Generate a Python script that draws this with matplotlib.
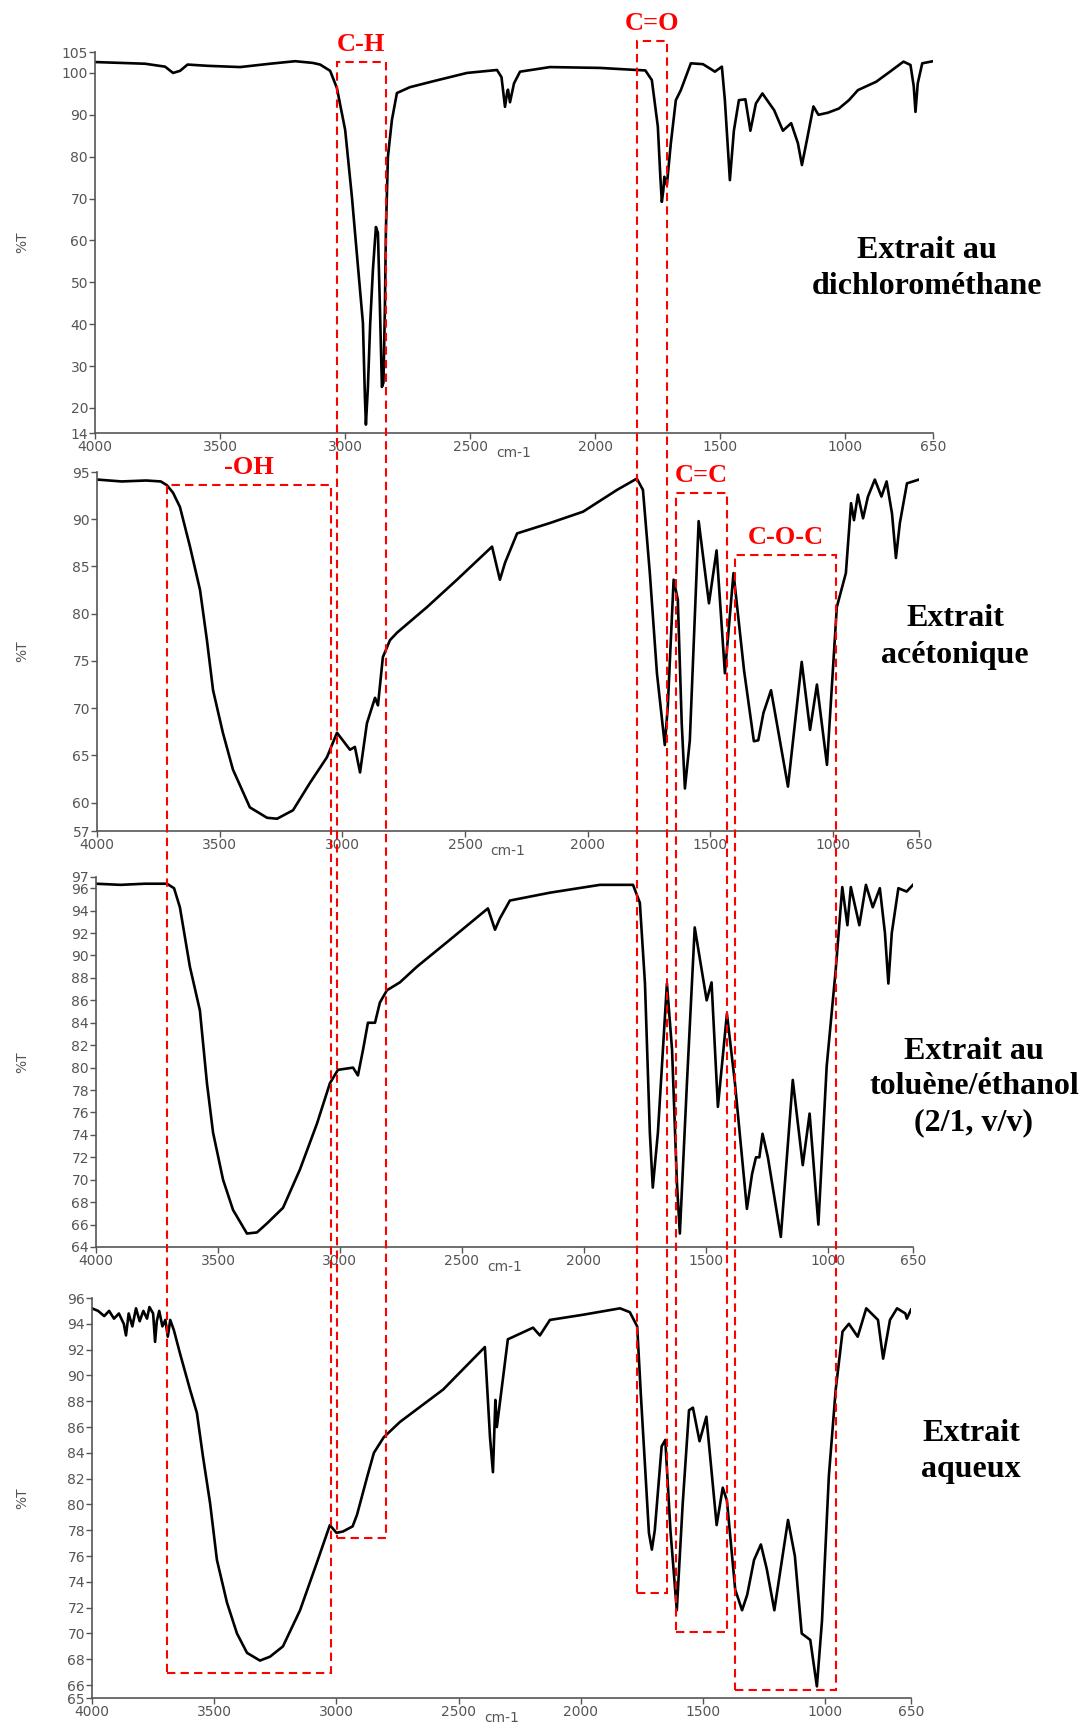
import matplotlib
matplotlib.use('Agg')
import matplotlib.pyplot as plt
from matplotlib.patches import Rectangle

W, H = 1083, 1726

# FTIR spectra: wavenumber (cm-1) and transmittance (%T)
wn_dcm = [4000, 3900, 3800, 3720, 3688, 3660, 3630, 3550, 3420, 3300, 3200, 3130, 3100, 3060,
          3033, 3000, 2973, 2950, 2929, 2921, 2917, 2909, 2900, 2889, 2877, 2869, 2861, 2853,
          2847, 2841, 2837, 2829, 2813, 2793, 2741, 2649, 2513, 2393, 2375, 2361, 2352, 2349,
          2341, 2325, 2301, 2181, 1982, 1834, 1800, 1774, 1750, 1740, 1734, 1728, 1724, 1714,
          1698, 1678, 1658, 1618, 1570, 1540, 1522, 1494, 1482, 1462, 1446, 1426, 1400, 1380,
          1358, 1332, 1285, 1250, 1217, 1190, 1174, 1154, 1128, 1108, 1070, 1026, 986, 950,
          877, 822, 768, 740, 727, 720, 711, 693, 650]
t_dcm = [102.6, 102.4, 102.2, 101.5, 100.0, 100.5, 102.0, 101.7, 101.4, 102.2, 102.8, 102.4, 102.0, 100.5,
         96.4, 86.4, 70.4, 54.6, 40.3, 22.6, 16.0, 25.0, 40.0, 53.0, 63.2, 61.8, 44.0, 25.0,
         26.0, 44.0, 62.5, 80.0, 88.8, 95.2, 96.6, 98.0, 100.0, 100.7, 99.0, 91.9, 95.5, 96.0,
         93.0, 97.5, 100.3, 101.4, 101.2, 100.7, 100.6, 98.3, 87.2, 75.2, 69.2, 72.0, 75.2, 73.2,
         83.2, 93.5, 95.9, 102.3, 102.1, 101.0, 100.3, 101.5, 93.5, 74.4, 86.2, 93.5, 93.7, 86.2,
         92.7, 95.1, 91.1, 86.2, 88.0, 83.2, 78.0, 84.0, 92.0, 90.0, 90.5, 91.5, 93.5, 95.9,
         97.9, 100.3, 102.7, 101.9, 96.8, 90.7, 97.5, 102.3, 102.8]

wn_ace = [4000, 3900, 3800, 3740, 3715, 3690, 3662, 3621, 3580, 3552, 3527, 3487, 3446, 3377,
          3307, 3266, 3201, 3132, 3063, 3022, 2969, 2949, 2928, 2900, 2867, 2855, 2835, 2806,
          2777, 2655, 2533, 2390, 2358, 2337, 2288, 2154, 2019, 1881, 1800, 1775, 1747, 1718,
          1686, 1674, 1650, 1633, 1617, 1604, 1584, 1548, 1506, 1475, 1441, 1406, 1363, 1323,
          1305, 1284, 1253, 1184, 1128, 1094, 1066, 1025, 985, 948, 927, 915, 899, 878,
          858, 830, 803, 782, 760, 744, 728, 699, 650]
t_ace = [94.2, 94.0, 94.1, 94.0, 93.6, 92.8, 91.3, 87.1, 82.5, 77.2, 71.9, 67.4, 63.5, 59.5,
         58.4, 58.3, 59.2, 62.1, 64.8, 67.4, 65.6, 65.9, 63.2, 68.4, 71.1, 70.3, 75.4, 77.2,
         78.0, 80.7, 83.6, 87.1, 83.6, 85.4, 88.5, 89.6, 90.8, 93.1, 94.3, 93.1, 84.3, 73.7,
         66.1, 70.1, 83.6, 81.5, 68.4, 61.5, 66.6, 89.8, 81.1, 86.7, 73.7, 84.3, 74.0, 66.5,
         66.6, 69.5, 71.9, 61.7, 74.9, 67.7, 72.5, 64.0, 80.7, 84.3, 91.7, 89.9, 92.6, 90.1,
         92.4, 94.2, 92.4, 94.0, 90.6, 85.9, 89.6, 93.8, 94.2]

wn_tol = [4000, 3900, 3800, 3709, 3680, 3656, 3615, 3574, 3545, 3520, 3479, 3438, 3381, 3340,
          3299, 3233, 3164, 3094, 3041, 3008, 2946, 2926, 2905, 2885, 2856, 2836, 2807, 2754,
          2684, 2549, 2393, 2364, 2344, 2303, 2139, 1934, 1798, 1770, 1749, 1729, 1717, 1696,
          1659, 1638, 1618, 1606, 1577, 1545, 1496, 1476, 1450, 1413, 1380, 1331, 1310, 1294,
          1280, 1267, 1245, 1192, 1143, 1102, 1074, 1038, 1004, 967, 940, 919, 905, 870,
          843, 815, 786, 765, 751, 737, 710, 676, 650]
t_tol = [96.4, 96.3, 96.4, 96.4, 96.0, 94.3, 89.0, 85.1, 78.6, 74.2, 70.0, 67.3, 65.2, 65.3,
         66.1, 67.5, 70.9, 75.0, 78.6, 79.8, 80.0, 79.3, 81.6, 84.0, 84.0, 85.8, 86.9, 87.6,
         89.0, 91.4, 94.2, 92.3, 93.3, 94.9, 95.6, 96.3, 96.3, 94.7, 87.5, 74.2, 69.3, 74.2,
         87.5, 81.6, 69.7, 65.2, 78.6, 92.5, 86.0, 87.6, 76.5, 84.8, 78.6, 67.4, 70.5, 72.0,
         72.0, 74.1, 72.0, 64.9, 78.9, 71.3, 75.9, 66.0, 80.1, 88.7, 96.1, 92.7, 96.1, 92.7,
         96.3, 94.3, 96.0, 92.0, 87.5, 92.0, 96.0, 95.7, 96.3]

wn_aq = [4000, 3975, 3950, 3930, 3910, 3890, 3870, 3861, 3850, 3835, 3820, 3805, 3790, 3775,
         3765, 3750, 3742, 3735, 3725, 3712, 3700, 3690, 3680, 3665, 3640, 3599, 3571, 3546,
         3517, 3489, 3448, 3407, 3366, 3313, 3272, 3219, 3149, 3080, 3027, 3000, 2974, 2934,
         2916, 2875, 2847, 2807, 2740, 2564, 2393, 2372, 2360, 2350, 2344, 2299, 2196, 2168,
         2127, 1992, 1840, 1800, 1770, 1755, 1738, 1722, 1710, 1698, 1670, 1655, 1634, 1608,
         1584, 1558, 1542, 1515, 1487, 1445, 1420, 1403, 1369, 1341, 1320, 1292, 1264, 1240,
         1209, 1153, 1125, 1097, 1062, 1035, 1014, 986, 958, 930, 904, 868, 833, 785,
         764, 736, 707, 673, 667, 650]
t_aq = [95.2, 95.0, 94.6, 95.0, 94.4, 94.8, 94.0, 93.1, 94.8, 93.8, 95.2, 94.2, 95.0, 94.4,
        95.3, 94.8, 92.6, 94.2, 95.0, 93.8, 94.3, 93.0, 94.3, 93.5, 91.7, 88.9, 87.1, 83.7,
        80.1, 75.7, 72.4, 70.0, 68.5, 67.9, 68.2, 69.0, 71.8, 75.5, 78.4, 77.8, 77.9, 78.3,
        79.2, 82.1, 84.0, 85.2, 86.4, 88.9, 92.2, 85.2, 82.5, 88.1, 86.0, 92.8, 93.7, 93.1,
        94.3, 94.7, 95.2, 94.9, 93.8, 88.5, 83.0, 77.8, 76.5, 78.0, 84.5, 85.0, 78.0, 71.8,
        80.0, 87.3, 87.5, 84.9, 86.8, 78.4, 81.3, 80.3, 73.4, 71.8, 73.0, 75.7, 76.9, 75.0,
        71.8, 78.8, 76.0, 70.0, 69.5, 65.9, 71.0, 82.2, 88.9, 93.4, 94.0, 93.0, 95.2, 94.3,
        91.3, 94.3, 95.2, 94.8, 94.4, 95.1]

xticks = [4000, 3500, 3000, 2500, 2000, 1500, 1000, 650]
yticks_dcm = [14, 20, 30, 40, 50, 60, 70, 80, 90, 100, 105]
yticks_ace = [57, 60, 65, 70, 75, 80, 85, 90, 95]
yticks_tol = [64, 66, 68, 70, 72, 74, 76, 78, 80, 82, 84, 86, 88, 90, 92, 94, 96, 97]
yticks_aq = [65, 66, 68, 70, 72, 74, 76, 78, 80, 82, 84, 86, 88, 90, 92, 94, 96]

names = [["Extrait au", "dichlorométhane"],
         ["Extrait", "acétonique"],
         ["Extrait au", "toluène/éthanol", "(2/1, v/v)"],
         ["Extrait", "aqueux"]]

# absorption bands: wavenumber range (top-panel scale), top edge and bottom edge as (panel, %T)
band_labels = ["C-H", "C=O", "-OH", "C=C", "C-O-C"]
band_wn = [(3033, 2837), (1834, 1714), (3712, 3057), (1678, 1474), (1442, 1038)]
band_top = [(0, 102.6), (0, 107.6), (1, 93.6), (1, 92.8), (1, 86.2)]
band_bottom = [(3, 77.4), (3, 73.1), (3, 66.9), (3, 70.1), (3, 65.6)]

spectra = [(wn_dcm, t_dcm, yticks_dcm), (wn_ace, t_ace, yticks_ace),
           (wn_tol, t_tol, yticks_tol), (wn_aq, t_aq, yticks_aq)]

# axes frames in pixels: left, top, right, bottom
frames = [(95, 52, 933, 433), (97, 472, 919, 831), (96, 877, 913, 1247), (92, 1298, 911, 1698)]
name_pos = [(927, 251, 35), (955, 619, 36), (974, 1051, 36), (971, 1433, 37)]

fig = plt.figure(figsize=(W / 100, H / 100), dpi=100)
gray = '#555555'
axes = []
for (wn, t, yt), (l, tp, r, b), names_i, (nx, ny, dy) in zip(spectra, frames, names, name_pos):
    ax = fig.add_axes([l / W, 1 - b / H, (r - l) / W, (b - tp) / H])
    ax.plot(wn, t, color='black', lw=1.9)
    ax.set_xlim(4000, 650)
    ax.set_ylim(yt[0], yt[-1])
    ax.set_xticks(xticks)
    ax.set_yticks(yt)
    for s in ['top', 'right']:
        ax.spines[s].set_visible(False)
    for s in ['left', 'bottom']:
        ax.spines[s].set_color(gray)
        ax.spines[s].set_linewidth(1.2)
    ax.tick_params(direction='out', length=4, width=1, color=gray, labelcolor=gray,
                   labelsize=10, pad=1)
    ax.set_xlabel('cm-1', fontsize=10, color=gray)
    ax.xaxis.set_label_coords(0.5, -13 / (b - tp))
    ax.set_ylabel('%T', fontsize=10, color=gray)
    ax.yaxis.set_label_coords(-(l - 29) / (r - l), 0.5)
    for k, line in enumerate(names_i):
        fig.text(nx / W, 1 - (ny + k * dy) / H, line, ha='center', va='center',
                 fontsize=23, fontweight='bold', family='Liberation Serif', color='black')
    axes.append(ax)

# dashed band boxes spanning the stacked panels
inv = fig.transFigure.inverted()
for lab, (w0, w1), (pt, tt), (pb, tb) in zip(band_labels, band_wn, band_top, band_bottom):
    x0, _ = inv.transform(axes[0].transData.transform((w0, 100)))
    x1, _ = inv.transform(axes[0].transData.transform((w1, 100)))
    _, y1 = inv.transform(axes[pt].transData.transform((w0, tt)))
    _, y0 = inv.transform(axes[pb].transData.transform((w0, tb)))
    rect = Rectangle((x0, y0), x1 - x0, y1 - y0, transform=fig.transFigure, fill=False,
                     ec='#ff0000', lw=1.5, ls=(0, (4, 2.5)), zorder=10)
    fig.add_artist(rect)
    fig.text((x0 + x1) / 2, y1 + 11 / H, lab, ha='center', va='baseline', color='#ff0000',
             fontsize=19, fontweight='bold', family='Liberation Serif')

fig.savefig('out.png', dpi=100)
